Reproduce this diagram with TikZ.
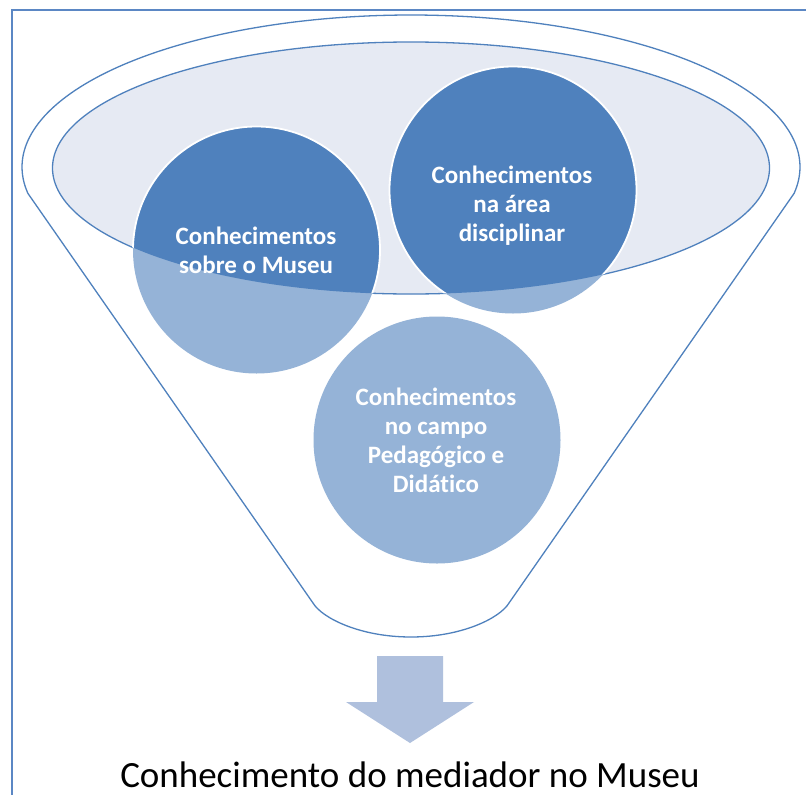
\documentclass[tikz,border=0pt]{standalone}
\usepackage{fontspec}
\setmainfont{Carlito}[Ligatures={NoCommon}]
\definecolor{lineblue}{HTML}{4F81BD}
\definecolor{framecol}{HTML}{5B87C4}
\definecolor{ellfill}{HTML}{E6EAF3}
\definecolor{darkbubble}{HTML}{4F81BD}
\definecolor{lightbubble}{HTML}{95B3D7}
\definecolor{arrowcol}{HTML}{AFC0DD}
\begin{document}
\begin{tikzpicture}[x=1pt,y=-1pt,
  outline/.style={draw=lineblue, line width=1.3pt},
  bubble/.style={circle, fill=lightbubble, draw=none, minimum size=247pt, inner sep=0pt, outer sep=0pt},
  bubbletext/.style={text=white, font=\bfseries\fontsize{25}{29}\selectfont, align=center, inner sep=0pt},
  resulttext/.style={anchor=base, font=\fontsize{37}{44}\selectfont, text=black}]
\clip (0,0) rectangle (806,795);
\fill[white] (0,0) rectangle (806,795);
\draw[framecol, line width=2pt] (11.5,9.5) rectangle (860,860);
% funnel body
\draw[outline, fill=white] plot[domain=-10:190, samples=150] ({411+389*cos(\x)},{167-152*sin(\x)})
  -- (313,603) .. controls (322,618) and (360,637) .. (411,637)
  .. controls (462,637) and (500,618) .. (509,603) -- cycle;
% inner ellipse
\draw[outline, fill=ellfill] (411,168) ellipse [x radius=358.5pt, y radius=126pt];
% bubbles
\node[bubble] (c1) at (256.5,250) {};
\node[bubble] (c2) at (513,190) {};
\node[bubble] (c3) at (437,440) {};
\begin{scope}
  \clip (411,168) ellipse [x radius=358.5pt, y radius=126pt];
  \foreach \c in {c1,c2,c3}
    \filldraw[fill=darkbubble, draw=white, line width=1.8pt] (\c.center) circle[radius=123.5pt];
\end{scope}
% texts
\node[bubbletext] (t1) at (256,250) {Conhecimentos\\sobre o Museu};
\node[bubbletext] (t2) at (512,206) {Conhecimentos\\na área\\disciplinar};
\node[bubbletext] (t3) at (436,440) {Conhecimentos\\no campo\\Pedagógico e\\Didático};
% arrow
\fill[arrowcol] (377,656) -- (443,656) -- (443,702) -- (474,702) -- (410,743) -- (346,702) -- (377,702) -- cycle;
\node[resulttext] (res) at (410,787) {Conhecimento do mediador no Museu};
\end{tikzpicture}
\end{document}
